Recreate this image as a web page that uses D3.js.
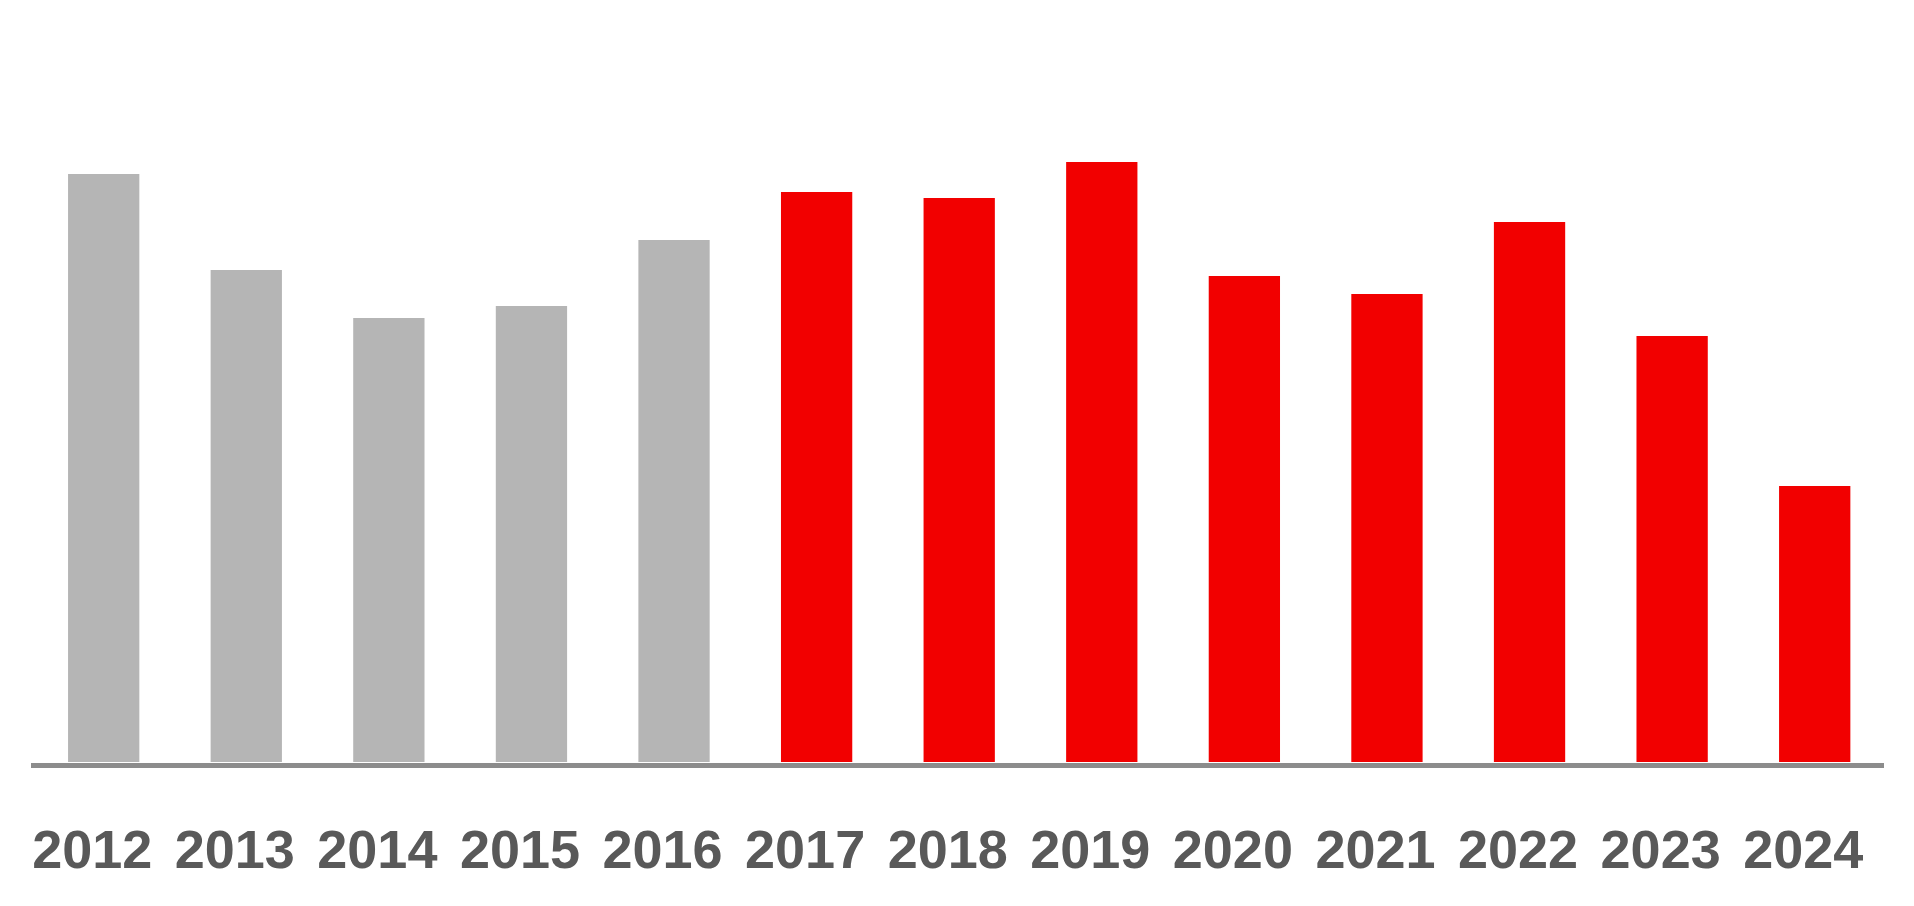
<!DOCTYPE html>
<html>
<head>
<meta charset="utf-8">
<script src="https://cdn.jsdelivr.net/npm/d3@7"></script>
<style>
html,body{margin:0;padding:0;background:#fff;}
svg{display:block;}
</style>
</head>
<body>
<svg id="chart" width="1914" height="906"></svg>
<script>
const years = ["2012","2013","2014","2015","2016","2017","2018","2019","2020","2021","2022","2023","2024"];
const values = [98, 82, 74, 76, 87, 95, 94, 100, 81, 78, 90, 71, 46];
const highlighted = ["2017","2018","2019","2020","2021","2022","2023","2024"];

const svg = d3.select("#chart");
const W = 1914, H = 906;
const baseY = 762;

const x = d3.scaleBand().domain(years).range([32.4, 1886]).paddingInner(0.5).paddingOuter(0.25);
const y = d3.scaleLinear().domain([0, 127]).range([baseY, 0]);

svg.append("g").selectAll("rect").data(years).join("rect")
  .attr("x", d => x(d))
  .attr("y", (d,i) => y(values[i]))
  .attr("width", x.bandwidth())
  .attr("height", (d,i) => baseY - y(values[i]))
  .attr("fill", d => highlighted.includes(d) ? "#f20000" : "#b5b5b5");

// baseline
svg.append("line")
  .attr("x1", 31).attr("x2", 1884)
  .attr("y1", baseY + 3.5).attr("y2", baseY + 3.5)
  .attr("stroke", "#8c8c8c").attr("stroke-width", 5);

// labels
const axis = d3.axisBottom(x).tickSize(0).tickPadding(0);
const gx = svg.append("g").attr("transform", `translate(0,${baseY})`).call(axis);
gx.select(".domain").remove();
gx.selectAll("text")
  .attr("y", 106)
  .attr("dy", 0)
  .attr("dx", -11.5)
  .attr("fill", "#595959")
  .attr("font-family", "'Liberation Sans', Arial, sans-serif")
  .attr("font-weight", "bold")
  .attr("font-size", "54px")
  .attr("text-anchor", "middle");
</script>
</body>
</html>
